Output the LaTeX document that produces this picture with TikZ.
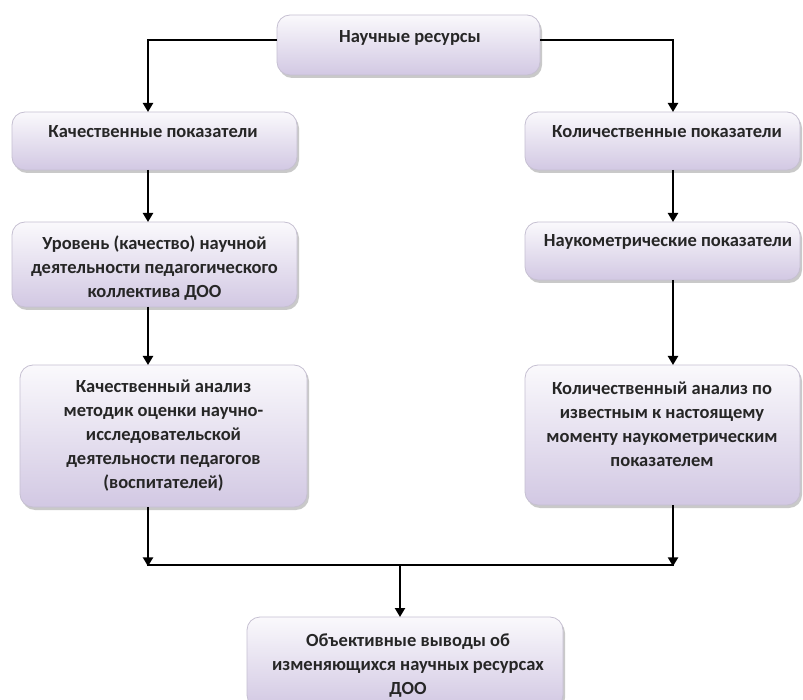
\documentclass[tikz,border=0pt]{standalone}
\usepackage{fontspec}
\setmainfont{Carlito}
\usetikzlibrary{arrows.meta,shadows}
\definecolor{boxtop}{HTML}{FAF9FC}
\definecolor{boxbot}{HTML}{D2C8E3}
\definecolor{boxedge}{HTML}{C6C0D2}
\tikzset{
  box/.style={draw=boxedge, line width=0.8pt, rounded corners=13pt,
    top color=boxtop, bottom color=boxbot,
    drop shadow={shadow xshift=2pt, shadow yshift=-3pt, opacity=0.35, fill=black!60}},
  txt/.style={inner sep=0pt, align=center, font=\fontsize{18.5}{24}\selectfont\bfseries, text=black!85},
  conn/.style={line width=2.7pt, black},
  arr/.style={conn, -{Triangle[length=9pt,width=10pt]}}
}
\begin{document}
\begin{tikzpicture}[x=1pt,y=-1pt]
\useasboundingbox[fill=white] (0,0) rectangle (803,700);
% boxes
\path[box] (277,15) rectangle (540,75) node[midway, inner sep=0pt] (A) {};
\path[box] (12,112) rectangle (297,170) node[midway, inner sep=0pt] (B) {};
\path[box] (525,112) rectangle (800,170) node[midway, inner sep=0pt] (C) {};
\path[box] (12,222) rectangle (297,307) node[midway, inner sep=0pt] (D) {};
\path[box] (525,222) rectangle (800,280) node[midway, inner sep=0pt] (E) {};
\path[box] (20,365) rectangle (307,507) node[midway, inner sep=0pt] (F) {};
\path[box] (525,365) rectangle (800,505) node[midway, inner sep=0pt] (G) {};
\path[box] (247,617) rectangle (563,708) node[midway, inner sep=0pt] (H) {};
% texts
\node[txt] (tA) at (410,38) {Научные ресурсы};
\node[txt] (tB) at (153,132) {Качественные показатели};
\node[txt] (tC) at (667,132) {Количественные показатели};
\node[txt] (tD) at (154.5,268) {Уровень (качество) научной\\деятельности педагогического\\коллектива ДОО};
\node[txt] (tE) at (668,242) {Наукометрические показатели};
\node[txt] (tF) at (163.5,436) {Качественный анализ\\методик оценки научно-\\исследовательской\\деятельности педагогов\\(воспитателей)};
\node[txt] (tG) at (662,424) {Количественный анализ по\\известным к настоящему\\моменту наукометрическим\\показателем};
\node[txt] (tH) at (408,666) {Объективные выводы об\\изменяющихся научных ресурсах\\ДОО};
% connector columns and junctions
\coordinate (colL) at (148,0);
\coordinate (colR) at (673,0);
\coordinate (colM) at (400,0);
\coordinate (jl) at (148,565);
\coordinate (jr) at (673,565);
\coordinate (jm) at (400,565);
% box edge references
\path (277,40) coordinate (Aw) (540,40) coordinate (Ae);
\path (0,112) coordinate (Bn) (0,170) coordinate (Bs)
      (0,222) coordinate (Dn) (0,307) coordinate (Ds)
      (0,280) coordinate (Es)
      (0,365) coordinate (Fn) (0,507) coordinate (Fs)
      (0,505) coordinate (Gs)
      (0,617) coordinate (Hn);
% connectors
\draw[arr] (Aw) -| (colL |- Bn);
\draw[arr] (Ae) -| (colR |- Bn);
\draw[arr] (colL |- Bs) -- (colL |- Dn);
\draw[arr] (colR |- Bs) -- (colR |- Dn);
\draw[arr] (colL |- Ds) -- (colL |- Fn);
\draw[arr] (colR |- Es) -- (colR |- Fn);
\draw[conn] ([xshift=-1.35pt]jl) -- ([xshift=1.35pt]jr);
\draw[arr] (colL |- Fs) -- ([yshift=-1.35pt]jl);
\draw[arr] (colR |- Gs) -- ([yshift=-1.35pt]jr);
\draw[arr] (jm) -- (colM |- Hn);
\end{tikzpicture}
\end{document}
